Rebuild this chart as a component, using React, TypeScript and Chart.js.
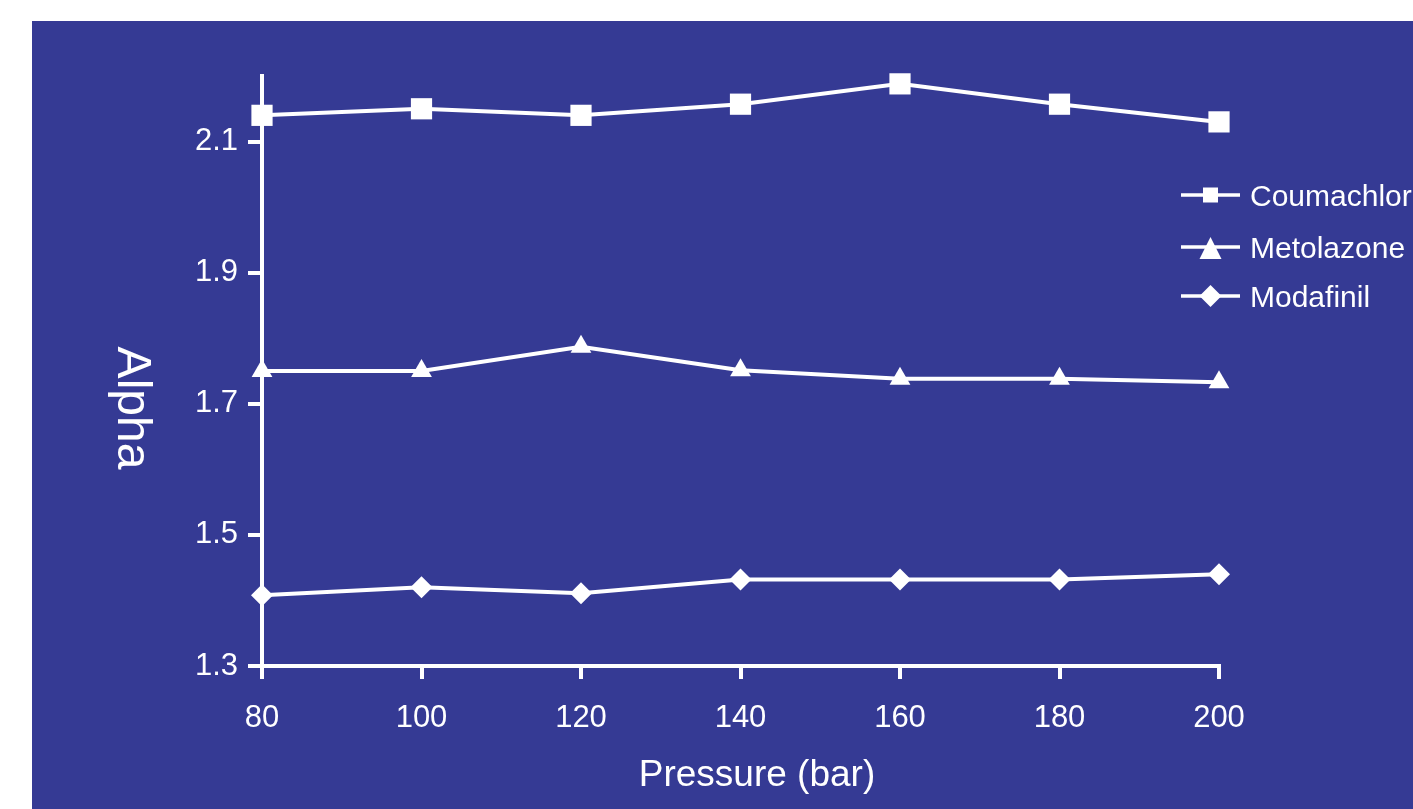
import React, { useEffect, useRef } from 'react';
import { Chart, registerables } from 'chart.js';

Chart.register(...registerables);

const pressures = [80, 100, 120, 140, 160, 180, 200];
const coumachlor = [2.14, 2.15, 2.14, 2.157, 2.188, 2.157, 2.13];
const metolazone = [1.75, 1.75, 1.787, 1.751, 1.738, 1.738, 1.733];
const modafinil = [1.408, 1.42, 1.411, 1.432, 1.432, 1.432, 1.44];
const seriesNames = ['Coumachlor', 'Metolazone', 'Modafinil'];
const seriesStyles = ['rect', 'triangle', 'rectRot'];
const seriesRadius = [15, 12, 11];
const yTicks = [1.3, 1.5, 1.7, 1.9, 2.1];
const xTitle = 'Pressure (bar)';
const yTitle = 'Alpha';

const BG = '#353A94';
const FONT = "'Liberation Sans', Arial, sans-serif";

function drawMarker(ctx: CanvasRenderingContext2D, style: string, x: number, y: number) {
  ctx.beginPath();
  if (style === 'rect') {
    ctx.rect(x - 7.5, y - 7.5, 15, 15);
  } else if (style === 'triangle') {
    ctx.moveTo(x, y - 10);
    ctx.lineTo(x + 11, y + 12);
    ctx.lineTo(x - 11, y + 12);
    ctx.closePath();
  } else {
    ctx.moveTo(x, y - 11);
    ctx.lineTo(x + 11, y);
    ctx.lineTo(x, y + 11);
    ctx.lineTo(x - 11, y);
    ctx.closePath();
  }
  ctx.fill();
}

const decorPlugin = {
  id: 'decor',
  beforeDraw(chart: any) {
    const ctx = chart.ctx;
    ctx.save();
    ctx.fillStyle = BG;
    ctx.fillRect(0, 0, chart.width, chart.height);
    ctx.restore();
  },
  afterDraw(chart: any) {
    const ctx = chart.ctx as CanvasRenderingContext2D;
    ctx.save();
    ctx.fillStyle = '#ffffff';
    ctx.strokeStyle = '#ffffff';
    // x title
    ctx.font = `37px ${FONT}`;
    ctx.textAlign = 'center';
    ctx.textBaseline = 'alphabetic';
    ctx.fillText(xTitle, 725, 765);
    // y title rotated clockwise
    ctx.save();
    ctx.translate(86, 387);
    ctx.rotate(Math.PI / 2);
    ctx.font = `48px ${FONT}`;
    ctx.textAlign = 'center';
    ctx.textBaseline = 'alphabetic';
    ctx.fillText(yTitle, 0, 0);
    ctx.restore();
    // legend
    const ys = [174, 226, 275];
    ctx.font = `30px ${FONT}`;
    ctx.textAlign = 'left';
    ctx.textBaseline = 'alphabetic';
    chart.data.datasets.forEach((ds: any, i: number) => {
      const y = ys[i];
      ctx.lineWidth = 3.5;
      ctx.beginPath();
      ctx.moveTo(1149, y);
      ctx.lineTo(1208, y);
      ctx.stroke();
      drawMarker(ctx, seriesStyles[i], 1178.5, y);
      ctx.fillText(ds.label, 1218, y + 11);
    });
    ctx.restore();
  },
};

export default function App() {
  const canvasRef = useRef<HTMLCanvasElement | null>(null);

  useEffect(() => {
    if (!canvasRef.current) return;
    const seriesValues = [coumachlor, metolazone, modafinil];
    const chart = new Chart(canvasRef.current, {
      type: 'line',
      data: {
        datasets: seriesNames.map((name, i) => ({
          label: name,
          data: pressures.map((p, j) => ({ x: p, y: seriesValues[i][j] })),
          borderColor: '#ffffff',
          borderWidth: 4,
          backgroundColor: '#ffffff',
          pointStyle: seriesStyles[i] as any,
          pointRadius: seriesRadius[i],
          pointHoverRadius: seriesRadius[i],
          pointBackgroundColor: '#ffffff',
          pointBorderColor: '#ffffff',
          pointBorderWidth: 0,
          tension: 0,
          clip: false as any,
        })),
      },
      options: {
        responsive: true,
        maintainAspectRatio: false,
        animation: false,
        layout: { padding: { left: 0, top: 55, right: 194, bottom: 43 } },
        plugins: {
          legend: { display: false },
          tooltip: { enabled: false },
        },
        scales: {
          x: {
            type: 'linear',
            min: 80,
            max: 200,
            ticks: {
              stepSize: 20,
              color: '#ffffff',
              font: { family: FONT, size: 31 },
              padding: 21,
              maxRotation: 0,
            },
            grid: { drawOnChartArea: false, color: '#ffffff', lineWidth: 4, tickLength: 13 },
            border: { color: '#ffffff', width: 4 },
            afterFit(s: any) {
              s.height = 100;
            },
          },
          y: {
            type: 'linear',
            min: 1.3,
            max: 2.2,
            afterBuildTicks(s: any) {
              s.ticks = yTicks.map((v) => ({ value: v }));
            },
            ticks: {
              color: '#ffffff',
              font: { family: FONT, size: 31 },
              padding: 10,
              callback: (v: any) => Number(v).toFixed(1),
            },
            grid: { drawOnChartArea: false, color: '#ffffff', lineWidth: 4, tickLength: 14 },
            border: { color: '#ffffff', width: 4 },
            afterFit(s: any) {
              s.width = 230;
            },
          },
        },
      },
      plugins: [decorPlugin],
    });
    return () => chart.destroy();
  }, []);

  return (
    <div style={{ position: 'absolute', left: 0, top: 0, width: 1413, height: 809, background: '#ffffff' }}>
      <div style={{ position: 'absolute', left: 32, top: 21, width: 1381, height: 788 }}>
        <canvas ref={canvasRef} />
      </div>
    </div>
  );
}
